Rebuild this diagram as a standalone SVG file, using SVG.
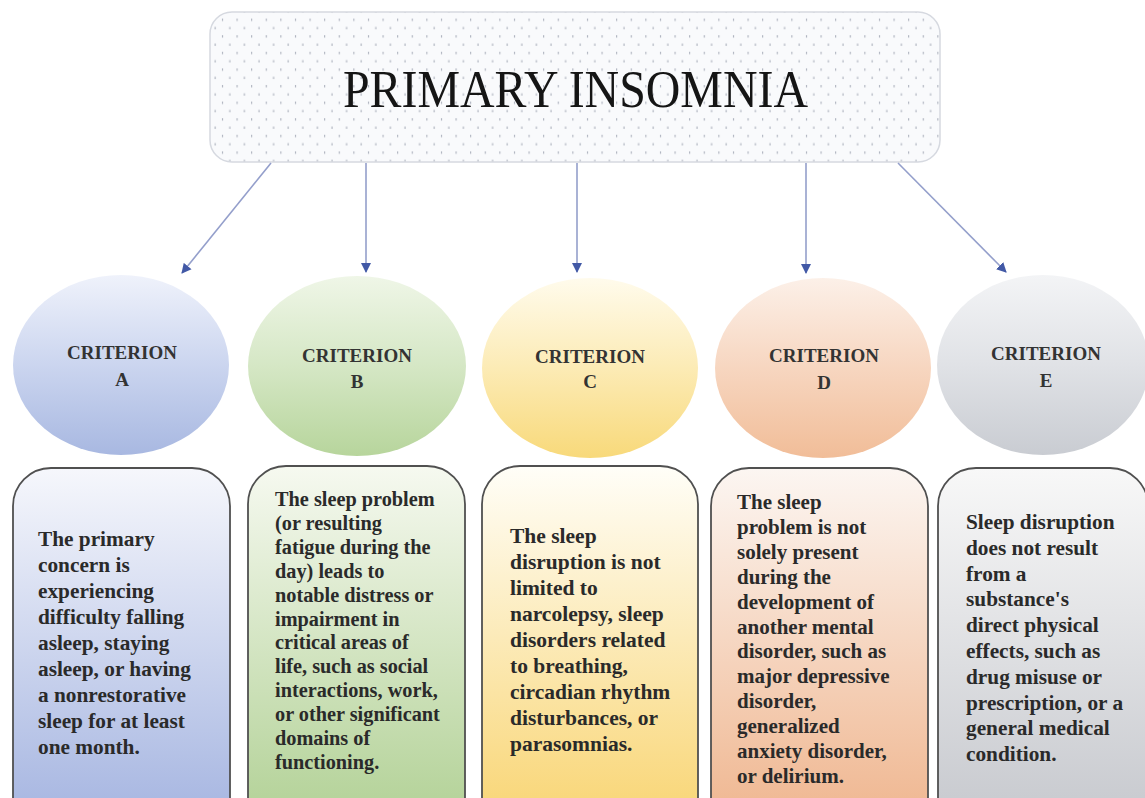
<svg xmlns="http://www.w3.org/2000/svg" width="1145" height="798" viewBox="0 0 1145 798">
<style>
.title{font-family:"Liberation Serif","DejaVu Serif",serif;font-size:53px;fill:#151515}
.lab{font-family:"Liberation Serif","DejaVu Serif",serif;font-size:19px;font-weight:bold;fill:#333;text-anchor:middle}
.body{font-family:"Liberation Serif","DejaVu Serif",serif;font-weight:bold;fill:#2a2a2a}
.box{stroke:#505050;stroke-width:1.8}
.conn{stroke:#949fcb;stroke-width:1.6;fill:none}
</style>
<defs>
<pattern id="dots" width="14.6" height="16.6" patternUnits="userSpaceOnUse">
<rect width="14.6" height="16.6" fill="#f9fafc"/>
<rect x="3" y="2" width="1" height="2.4" fill="#a3a9b6"/>
<rect x="10.3" y="10.3" width="1" height="2.4" fill="#a3a9b6"/>
</pattern>
<marker id="ah" viewBox="0 0 10 10" refX="9" refY="5" markerWidth="10" markerHeight="11" markerUnits="userSpaceOnUse" orient="auto">
<path d="M0,0 L10,5 L0,10 Z" fill="#4259a6"/>
</marker>
<linearGradient id="cA" x1="0" y1="0" x2="0" y2="1"><stop offset="0" stop-color="#eff2fb"/><stop offset="0.5" stop-color="#cbd5ef"/><stop offset="1" stop-color="#a8b8e1"/></linearGradient>
<linearGradient id="cB" x1="0" y1="0" x2="0" y2="1"><stop offset="0" stop-color="#eff6e7"/><stop offset="0.5" stop-color="#d5e7c5"/><stop offset="1" stop-color="#b7d59c"/></linearGradient>
<linearGradient id="cC" x1="0" y1="0" x2="0" y2="1"><stop offset="0" stop-color="#fffbec"/><stop offset="0.5" stop-color="#fcebb5"/><stop offset="1" stop-color="#f8d97a"/></linearGradient>
<linearGradient id="cD" x1="0" y1="0" x2="0" y2="1"><stop offset="0" stop-color="#fcf0e8"/><stop offset="0.5" stop-color="#f7d6c0"/><stop offset="1" stop-color="#f1bd98"/></linearGradient>
<linearGradient id="cE" x1="0" y1="0" x2="0" y2="1"><stop offset="0" stop-color="#f3f4f6"/><stop offset="0.5" stop-color="#e0e2e6"/><stop offset="1" stop-color="#c9ccd2"/></linearGradient>
<linearGradient id="bA" x1="0" y1="0" x2="0" y2="1"><stop offset="0" stop-color="#f6f7fc"/><stop offset="1" stop-color="#a9b8e2"/></linearGradient>
<linearGradient id="bB" x1="0" y1="0" x2="0" y2="1"><stop offset="0" stop-color="#f6f9f0"/><stop offset="1" stop-color="#b5d39a"/></linearGradient>
<linearGradient id="bC" x1="0" y1="0" x2="0" y2="1"><stop offset="0" stop-color="#fffef8"/><stop offset="1" stop-color="#f9d77a"/></linearGradient>
<linearGradient id="bD" x1="0" y1="0" x2="0" y2="1"><stop offset="0" stop-color="#fcf6f2"/><stop offset="1" stop-color="#f0b994"/></linearGradient>
<linearGradient id="bE" x1="0" y1="0" x2="0" y2="1"><stop offset="0" stop-color="#f8f8f8"/><stop offset="1" stop-color="#c9cbd0"/></linearGradient>
</defs>
<rect width="1145" height="798" fill="#ffffff"/>

<g id="title">
<rect x="210" y="12" width="730" height="150" rx="22" fill="url(#dots)" stroke="#d6d9e0" stroke-width="1.5"/>
<text class="title" x="343" y="107" textLength="465" lengthAdjust="spacingAndGlyphs">PRIMARY INSOMNIA</text>
</g>

<g id="connectors">
<line class="conn" x1="271" y1="163" x2="182" y2="273" marker-end="url(#ah)"/>
<line class="conn" x1="366" y1="163" x2="366" y2="272" marker-end="url(#ah)"/>
<line class="conn" x1="577" y1="163" x2="577" y2="272" marker-end="url(#ah)"/>
<line class="conn" x1="806" y1="163" x2="806" y2="273" marker-end="url(#ah)"/>
<line class="conn" x1="898" y1="163" x2="1006" y2="272" marker-end="url(#ah)"/>
</g>

<g id="criterion-a">
<ellipse cx="121" cy="365" rx="108" ry="90" fill="url(#cA)"/>
<text class="lab" x="122" y="359">CRITERION</text>
<text class="lab" x="122" y="386">A</text>
</g>
<g id="criterion-b">
<ellipse cx="357" cy="366" rx="109" ry="90" fill="url(#cB)"/>
<text class="lab" x="357" y="362">CRITERION</text>
<text class="lab" x="357" y="388">B</text>
</g>
<g id="criterion-c">
<ellipse cx="590" cy="368" rx="108" ry="90" fill="url(#cC)"/>
<text class="lab" x="590" y="363">CRITERION</text>
<text class="lab" x="590" y="388">C</text>
</g>
<g id="criterion-d">
<ellipse cx="823" cy="368" rx="108" ry="90" fill="url(#cD)"/>
<text class="lab" x="824" y="362">CRITERION</text>
<text class="lab" x="824" y="389">D</text>
</g>
<g id="criterion-e">
<ellipse cx="1043" cy="365" rx="106" ry="90" fill="url(#cE)"/>
<text class="lab" x="1046" y="360">CRITERION</text>
<text class="lab" x="1046" y="387">E</text>
</g>

<g id="desc-a">
<path class="box" d="M13,805 V506 A38,38 0 0 1 51,468 H192 A38,38 0 0 1 230,506 V805 Z" fill="url(#bA)"/>
<text class="body" x="38" y="546" font-size="21.3px">
<tspan x="38">The primary</tspan>
<tspan x="38" dy="26">concern is</tspan>
<tspan x="38" dy="26">experiencing</tspan>
<tspan x="38" dy="26">difficulty falling</tspan>
<tspan x="38" dy="26">asleep, staying</tspan>
<tspan x="38" dy="26">asleep, or having</tspan>
<tspan x="38" dy="26">a nonrestorative</tspan>
<tspan x="38" dy="26">sleep for at least</tspan>
<tspan x="38" dy="26">one month.</tspan>
</text>
</g>
<g id="desc-b">
<path class="box" d="M248,805 V504 A38,38 0 0 1 286,466 H427 A38,38 0 0 1 465,504 V805 Z" fill="url(#bB)"/>
<text class="body" x="275" y="506" font-size="20.3px">
<tspan x="275">The sleep problem</tspan>
<tspan x="275" dy="23.9">(or resulting</tspan>
<tspan x="275" dy="23.9">fatigue during the</tspan>
<tspan x="275" dy="23.9">day) leads to</tspan>
<tspan x="275" dy="23.9">notable distress or</tspan>
<tspan x="275" dy="23.9">impairment in</tspan>
<tspan x="275" dy="23.9">critical areas of</tspan>
<tspan x="275" dy="23.9">life, such as social</tspan>
<tspan x="275" dy="23.9">interactions, work,</tspan>
<tspan x="275" dy="23.9">or other significant</tspan>
<tspan x="275" dy="23.9">domains of</tspan>
<tspan x="275" dy="23.9">functioning.</tspan>
</text>
</g>
<g id="desc-c">
<path class="box" d="M482,805 V504 A38,38 0 0 1 520,466 H660 A38,38 0 0 1 698,504 V805 Z" fill="url(#bC)"/>
<text class="body" x="510" y="543" font-size="21.5px">
<tspan x="510">The sleep</tspan>
<tspan x="510" dy="26">disruption is not</tspan>
<tspan x="510" dy="26">limited to</tspan>
<tspan x="510" dy="26">narcolepsy, sleep</tspan>
<tspan x="510" dy="26">disorders related</tspan>
<tspan x="510" dy="26">to breathing,</tspan>
<tspan x="510" dy="26">circadian rhythm</tspan>
<tspan x="510" dy="26">disturbances, or</tspan>
<tspan x="510" dy="26">parasomnias.</tspan>
</text>
</g>
<g id="desc-d">
<path class="box" d="M711,805 V506 A38,38 0 0 1 749,468 H890 A38,38 0 0 1 928,506 V805 Z" fill="url(#bD)"/>
<text class="body" x="737" y="509" font-size="21px">
<tspan x="737">The sleep</tspan>
<tspan x="737" dy="24.9">problem is not</tspan>
<tspan x="737" dy="24.9">solely present</tspan>
<tspan x="737" dy="24.9">during the</tspan>
<tspan x="737" dy="24.9">development of</tspan>
<tspan x="737" dy="24.9">another mental</tspan>
<tspan x="737" dy="24.9">disorder, such as</tspan>
<tspan x="737" dy="24.9">major depressive</tspan>
<tspan x="737" dy="24.9">disorder,</tspan>
<tspan x="737" dy="24.9">generalized</tspan>
<tspan x="737" dy="24.9">anxiety disorder,</tspan>
<tspan x="737" dy="24.9">or delirium.</tspan>
</text>
</g>
<g id="desc-e">
<path class="box" d="M938,805 V506 A38,38 0 0 1 976,468 H1110 A38,38 0 0 1 1148,506 V805 Z" fill="url(#bE)"/>
<text class="body" x="966" y="529" font-size="21.3px">
<tspan x="966">Sleep disruption</tspan>
<tspan x="966" dy="25.8">does not result</tspan>
<tspan x="966" dy="25.8">from a</tspan>
<tspan x="966" dy="25.8">substance's</tspan>
<tspan x="966" dy="25.8">direct physical</tspan>
<tspan x="966" dy="25.8">effects, such as</tspan>
<tspan x="966" dy="25.8">drug misuse or</tspan>
<tspan x="966" dy="25.8">prescription, or a</tspan>
<tspan x="966" dy="25.8">general medical</tspan>
<tspan x="966" dy="25.8">condition.</tspan>
</text>
</g>
</svg>
